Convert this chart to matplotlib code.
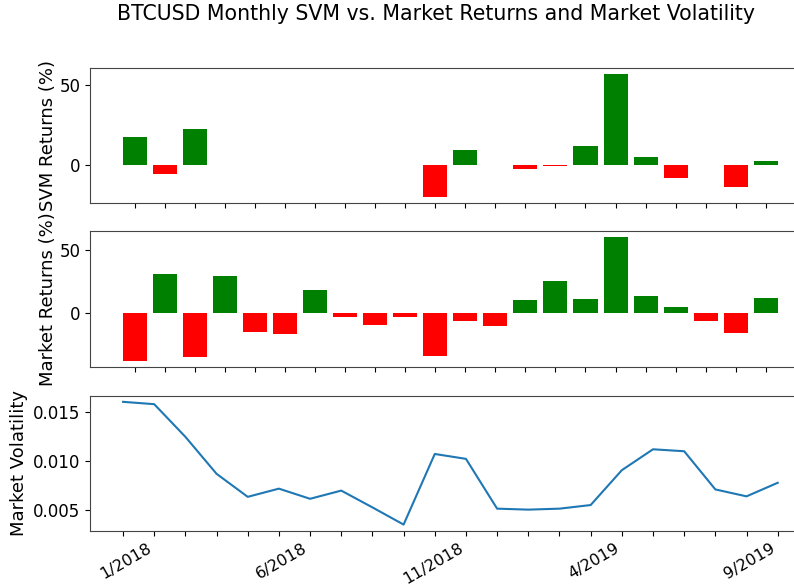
import numpy as np
import matplotlib
matplotlib.use('Agg')
import matplotlib.pyplot as plt

# monthly data, 12/2017 .. 9/2019
months = ['12/2017', '1/2018', '2/2018', '3/2018', '4/2018', '5/2018', '6/2018',
          '7/2018', '8/2018', '9/2018', '10/2018', '11/2018', '12/2018',
          '1/2019', '2/2019', '3/2019', '4/2019', '5/2019', '6/2019',
          '7/2019', '8/2019', '9/2019']
shown_labels = ['1/2018', '6/2018', '11/2018', '4/2019', '9/2019']

svm_returns = [17.4, -5.8, 22.7, 0, 0, 0, 0, 0, 0, 0, -20.2, 9.5,
               0, -2.5, -0.6, 12.0, 57.2, 4.8, -7.9, 0, -13.8, 2.3]
market_returns = [-37.6, 31.3, -35.0, 29.7, -14.7, -16.6, 18.7, -3.2, -9.2, -3.2,
                  -33.7, -6.3, -10.0, 10.3, 25.5, 11.1, 60.3, 13.7, 4.5, -6.3,
                  -15.8, 12.1]
volatility = [0.01608, 0.01584, 0.01250, 0.00871, 0.00635, 0.00719, 0.00615,
              0.00699, 0.00527, 0.00351, 0.01074, 0.01024, 0.00514, 0.00504,
              0.00514, 0.00551, 0.00908, 0.01122, 0.01102, 0.00711, 0.00640,
              0.00779]
return_ticks = [0, 50]


def bar_colors(vals):
    return ['green' if v > 0 else 'red' for v in vals]


fig = plt.figure(figsize=(7.94, 5.85), dpi=100)
ax1 = fig.add_axes([0.1137, 0.6525, 0.907, 0.2321])
ax2 = fig.add_axes([0.1137, 0.3732, 0.907, 0.2320])
ax3 = fig.add_axes([0.1137, 0.0928, 0.907, 0.2308])

x = np.arange(len(months))

ax1.bar(x, svm_returns, width=0.8, color=bar_colors(svm_returns))
ax1.set_ylabel('SVM Returns (%)', fontsize=13, labelpad=2)
ax1.set_xticks(x)
ax1.set_xticklabels([])
ax1.set_yticks(return_ticks)

ax2.bar(x, market_returns, width=0.8, color=bar_colors(market_returns))
ax2.set_ylabel('Market Returns (%)', fontsize=13, labelpad=2)
ax2.set_xticks(x)
ax2.set_xticklabels([])
ax2.set_yticks(return_ticks)

ax3.plot(x, volatility, color='tab:blue')
ax3.set_ylabel('Market Volatility', fontsize=13)
ax3.set_xticks(x)
ax3.set_xticklabels([m if m in shown_labels else '' for m in months],
                    rotation=30, ha='right')

for ax in (ax1, ax2, ax3):
    ax.tick_params(labelsize=12)
    for s in ax.spines.values():
        s.set_color('#444444')
ax3.tick_params(axis='x', labelsize=11.5)

# the original figure was wider and cropped, so the title sits right of centre
fig.suptitle('BTCUSD Monthly SVM vs. Market Returns and Market Volatility',
             fontsize=14.8, x=0.549, y=0.993)

fig.savefig('out.png', dpi=100)
